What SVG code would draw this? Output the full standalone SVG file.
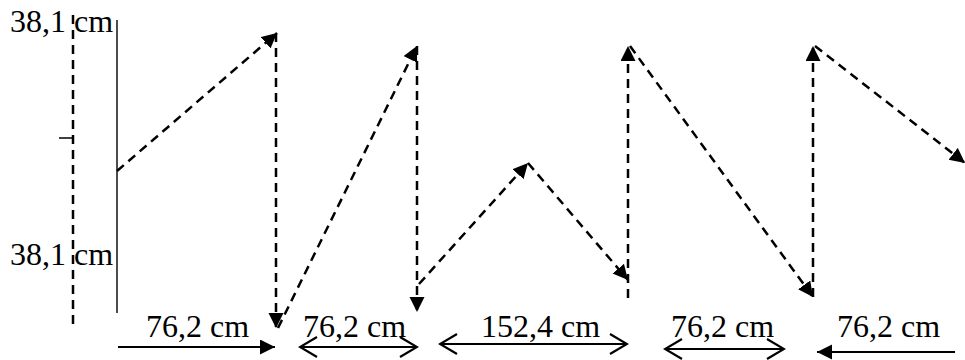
<svg xmlns="http://www.w3.org/2000/svg" width="965" height="360" viewBox="0 0 965 360">
<style>
.d{stroke:#000;stroke-width:2.5;stroke-dasharray:9,6;fill:none}
.s{stroke:#000;stroke-width:2.2;fill:none}
.t{font-family:"Liberation Serif","Times New Roman",serif;font-size:32px;fill:#000}
</style>
<defs>
<marker id="ah" markerUnits="userSpaceOnUse" markerWidth="16" markerHeight="16" refX="15" refY="7.5" orient="auto-start-reverse" viewBox="0 0 16 16"><path d="M0,0 L15,7.5 L0,15 z" fill="#000"/></marker>
<marker id="oh" markerUnits="userSpaceOnUse" markerWidth="20" markerHeight="24" refX="18" refY="11" orient="auto-start-reverse" viewBox="0 0 20 24"><path d="M1,1 L18,11 L1,21" fill="none" stroke="#000" stroke-width="2.2"/></marker>
</defs>
<rect width="965" height="360" fill="#fff"/>
<g id="axis">
<line class="d" x1="73" y1="15" x2="73" y2="330"/>
<line x1="59" y1="138" x2="72" y2="138" stroke="#000" stroke-width="1.5"/>
<line x1="117" y1="20" x2="117" y2="313" stroke="#000" stroke-width="1.4"/>
</g>
<g id="labels">
<text class="t" x="10" y="32">38,1 cm</text>
<text class="t" x="10" y="265">38,1 cm</text>
<text class="t" x="146" y="337">76,2 cm</text>
<text class="t" x="303" y="337">76,2 cm</text>
<text class="t" x="481" y="337">152,4 cm</text>
<text class="t" x="671" y="337">76,2 cm</text>
<text class="t" x="837" y="337">76,2 cm</text>
</g>
<g id="connectors">
<line class="d" x1="117" y1="171" x2="277" y2="33" marker-end="url(#ah)"/>
<line class="d" x1="276" y1="33" x2="276" y2="328" marker-end="url(#ah)"/>
<line class="d" x1="278" y1="328" x2="417" y2="46" marker-end="url(#ah)"/>
<line class="d" x1="417" y1="46" x2="417" y2="312" marker-end="url(#ah)"/>
<line class="d" x1="419" y1="284" x2="528" y2="163" marker-end="url(#ah)"/>
<line class="d" x1="528" y1="163" x2="628" y2="280" marker-end="url(#ah)"/>
<line class="d" x1="628" y1="298" x2="628" y2="46" marker-end="url(#ah)"/>
<line class="d" x1="630" y1="46" x2="813" y2="297" marker-end="url(#ah)"/>
<line class="d" x1="813" y1="297" x2="813" y2="46" marker-end="url(#ah)"/>
<line class="d" x1="815" y1="46" x2="965" y2="163" marker-end="url(#ah)"/>
</g>
<g id="dimensions">
<line class="s" x1="118" y1="347" x2="275" y2="347" marker-end="url(#ah)"/>
<line class="s" x1="300" y1="347" x2="417" y2="347" marker-start="url(#oh)" marker-end="url(#oh)"/>
<line class="s" x1="440" y1="344" x2="627" y2="344" marker-start="url(#oh)" marker-end="url(#oh)"/>
<line class="s" x1="665" y1="349" x2="784" y2="349" marker-start="url(#oh)" marker-end="url(#oh)"/>
<line class="s" x1="955" y1="352" x2="817" y2="352" marker-end="url(#ah)"/>
</g>
</svg>
